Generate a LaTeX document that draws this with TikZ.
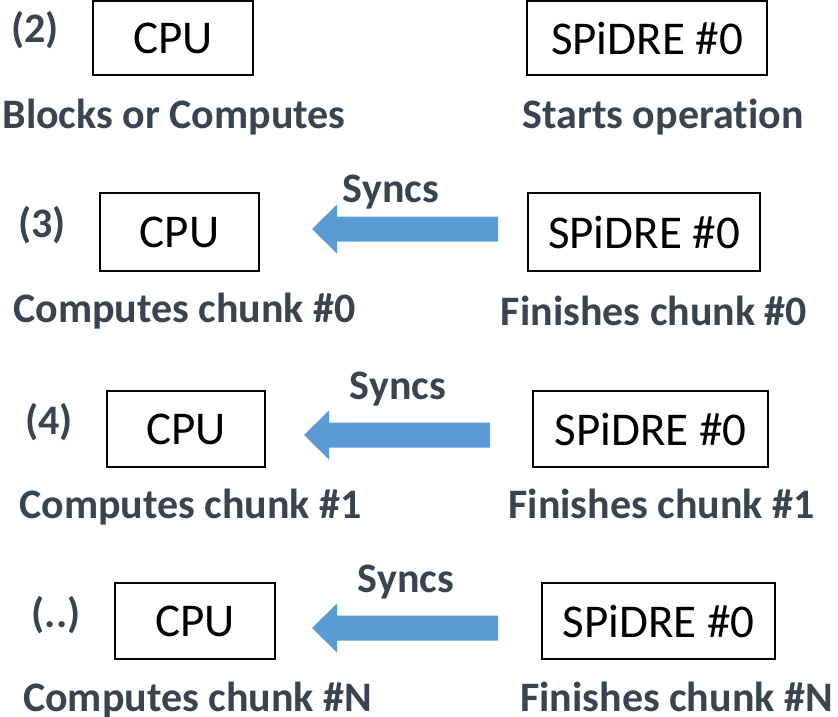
\documentclass[tikz,border=0pt]{standalone}
\usepackage{fontspec}
\setmainfont{Carlito}[Ligatures=NoCommon]
\definecolor{labelgray}{HTML}{3A4350}
\definecolor{syncblue}{HTML}{5B9BD5}
\begin{document}
\begin{tikzpicture}[x=1pt,y=-1pt,
  box/.style={draw=black, line width=1.6pt, inner sep=0pt,
              font=\fontsize{47}{56}\selectfont},
  lbl/.style={text=labelgray, font=\bfseries\fontsize{42}{50}\selectfont,
              anchor=base, inner sep=0pt},
  syncarrow/.pic={
    \fill[syncblue] (0,0) -- (25,-24.5) -- (25,-12.5) -- (186,-12.5)
                    -- (186,12.5) -- (25,12.5) -- (25,24.5) -- cycle;
  }]
\useasboundingbox (0,0) rectangle (838,716);

% step (2)
\node[lbl] (n2) at (35,42) {(2)};
\node[box, minimum width=160pt, minimum height=74pt] (cpu2) at (173,38) {CPU};
\node[box, minimum width=240pt, minimum height=74pt] (sp2) at (647,38) {SPiDRE \#0};
\node[lbl] (c2) at (174,128) {Blocks or Computes};
\node[lbl] (s2) at (663,128) {Starts operation};

% step (3)
\node[lbl] (n3) at (42,237) {(3)};
\node[box, minimum width=159pt, minimum height=78pt] (cpu3) at (179.5,232) {CPU};
\node[box, minimum width=232pt, minimum height=78pt] (sp3) at (644,232) {SPiDRE \#0};
\coordinate (tip3) at (312,229);
\pic at (tip3) {syncarrow};
\node[lbl] (y3) at (391,202) {Syncs};
\node[lbl] (c3) at (184.5,322) {Computes chunk \#0};
\node[lbl] (s3) at (654,325) {Finishes chunk \#0};

% step (4)
\node[lbl] (n4) at (49,434) {(4)};
\node[box, minimum width=158pt, minimum height=76pt] (cpu4) at (186,429) {CPU};
\node[box, minimum width=235pt, minimum height=76pt] (sp4) at (650.5,429) {SPiDRE \#0};
\coordinate (tip4) at (304,435);
\pic at (tip4) {syncarrow};
\node[lbl] (y4) at (398,399) {Syncs};
\node[lbl] (c4) at (190.5,518) {Computes chunk \#1};
\node[lbl] (s4) at (661.5,518) {Finishes chunk \#1};

% step (..)
\node[lbl] (n5) at (56,627) {(..)};
\node[box, minimum width=160pt, minimum height=76pt] (cpu5) at (195,621) {CPU};
\node[box, minimum width=233pt, minimum height=76pt] (sp5) at (658.5,621) {SPiDRE \#0};
\coordinate (tip5) at (312,628);
\pic at (tip5) {syncarrow};
\node[lbl] (y5) at (406,592) {Syncs};
\node[lbl] (c5) at (197.5,711) {Computes chunk \#N};
\node[lbl, anchor=base west] (s5) at (520,711) {Finishes chunk \#N};
\end{tikzpicture}
\end{document}
